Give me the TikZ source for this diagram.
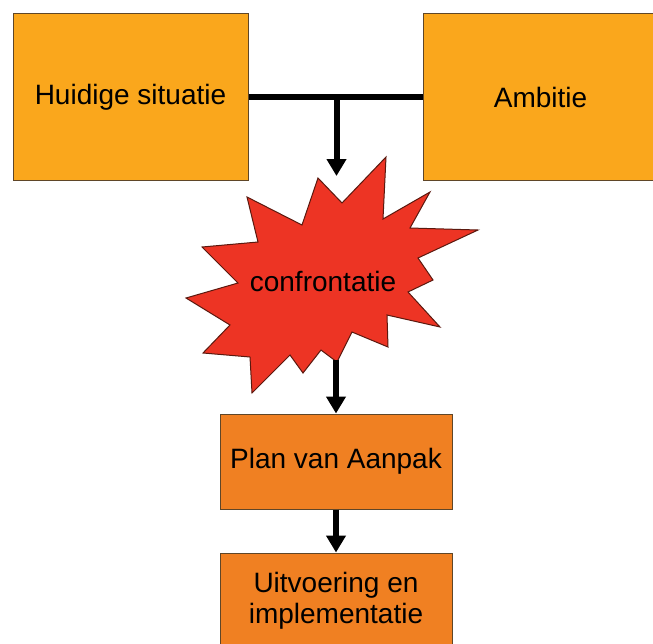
\documentclass[tikz,border=0pt]{standalone}
\usepackage{fontspec}
\setmainfont{Liberation Sans}
\usetikzlibrary{arrows.meta,calc}

\definecolor{boxyellow}{RGB}{250,167,28}
\definecolor{boxorange}{RGB}{240,128,34}
\definecolor{burstred}{RGB}{237,52,36}
\definecolor{edgebrown}{RGB}{95,70,40}
\definecolor{burstedge}{RGB}{90,25,15}

\tikzset{
  topbox/.style={draw=edgebrown, line width=1pt, fill=boxyellow,
    minimum width=235pt, minimum height=167pt, inner sep=0pt,
    font=\fontsize{28}{31}\selectfont},
  stagebox/.style={draw=edgebrown, line width=1pt, fill=boxorange,
    minimum width=232pt, minimum height=95pt, inner sep=0pt, align=center,
    font=\fontsize{28}{31}\selectfont},
  flow/.style={line width=6pt, draw=black},
  flowarrow/.style={flow, -{Triangle[width=19pt,length=17pt]}},
}

\begin{document}
\begin{tikzpicture}[x=1pt, y=-1pt]
  \useasboundingbox (0,0) rectangle (653,643);
  \clip (0,0) rectangle (653,643);

  % the two starting points
  \node[topbox] (huidige) at (130.5,97) {Huidige situatie};
  \node[topbox] (ambitie) at (540.5,97) {Ambitie};

  % the confrontation burst
  \fill[burstred, draw=burstedge, line width=1pt, line join=miter]
    (318,178) -- (342,203) -- (386,157) -- (383,219) -- (430,192) --
    (410,228) -- (478,230) -- (418,258) -- (433,280) -- (408,292) --
    (440,327) -- (387,315) -- (388,347) -- (352,332) -- (337,362) --
    (321,350) -- (303,373) -- (290,355) -- (252,393) -- (250,357) --
    (203,353) -- (230,325) -- (186,298) -- (238,283) -- (202,247) --
    (258,242) -- (247,197) -- (302,225) -- cycle;
  \node[font=\fontsize{28}{31}\selectfont, inner sep=0pt] (conf) at (323,281) {confrontatie};
  \coordinate (bursttop) at (336.5,176);
  \coordinate (burstbottom) at (336,360);

  % the steps that follow
  \node[stagebox] (plan) at (336,461.5) {Plan van Aanpak};
  \node[stagebox] (uitvoering) at (336,600.5) {Uitvoering en\\implementatie};

  % connectors
  \coordinate (join) at (336.5,97);
  \draw[flow] (huidige.east) -- (ambitie.west);
  \draw[flowarrow] (join) -- (bursttop);
  \draw[flowarrow] (burstbottom) -- (plan.north);
  \draw[flowarrow] (plan.south) -- (uitvoering.north);
\end{tikzpicture}
\end{document}
